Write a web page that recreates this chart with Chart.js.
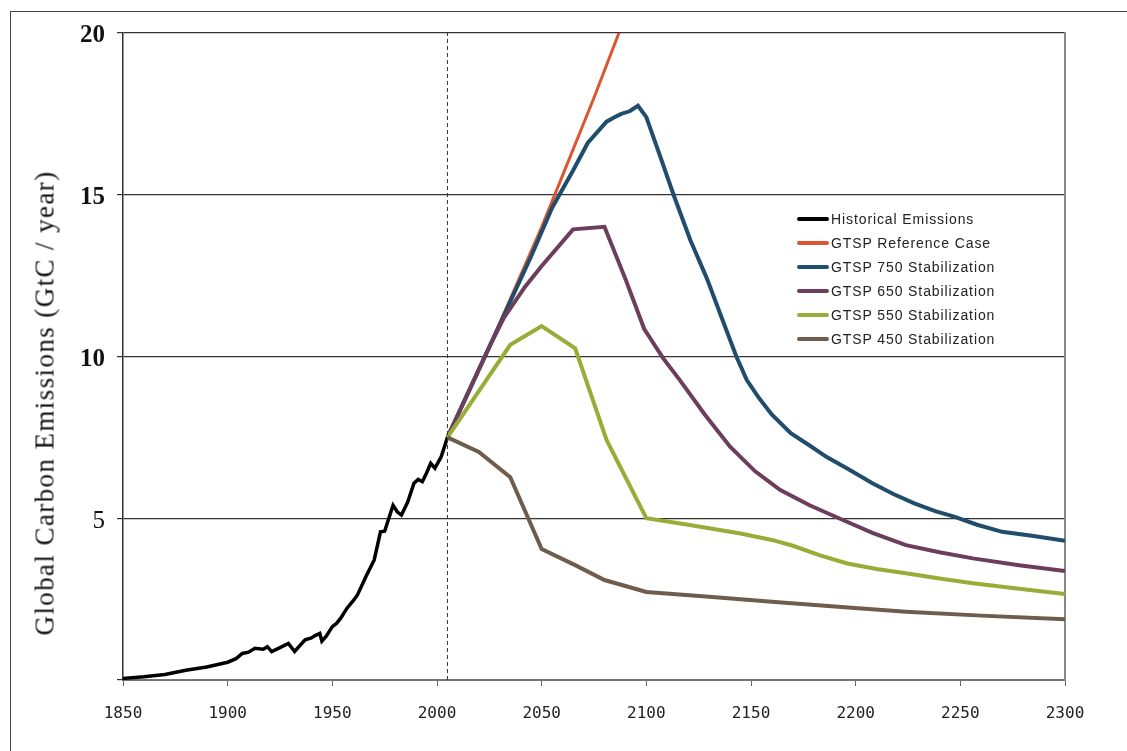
<!DOCTYPE html>
<html>
<head>
<meta charset="utf-8">
<script src="https://cdn.jsdelivr.net/npm/chart.js@4.4.1/dist/chart.umd.min.js"></script>
<style>
  body { margin: 0; background: #fff; }
  #wrap { position: relative; width: 1127px; height: 751px; overflow: hidden; }
  #frame { position: absolute; left: 10px; top: 11px; width: 1300px; height: 900px; border: 1.5px solid #444; }
  #chart { position: absolute; left: 0; top: 0; }
  #ytitle {
    position: absolute; left: 45px; top: 403px;
    transform: translate(-50%, -50%) rotate(-90deg);
    white-space: nowrap; font: 27px "Liberation Serif", serif; letter-spacing: 1.4px; color: #111;
  }
  #legend { position: absolute; left: 797px; top: 207px; font: 14px "Liberation Sans", Arial, sans-serif; color: #222; letter-spacing: 0.9px; }
  #legend div { height: 24px; line-height: 20px; white-space: nowrap; display: flex; align-items: center; }
  #legend span.sw { display: inline-block; width: 32px; height: 4px; border-radius: 2px; margin-right: 2px; }
</style>
</head>
<body>
<div id="wrap">
  <div id="frame"></div>
  <canvas id="chart" width="1127" height="751"></canvas>
  <div id="ytitle">Global Carbon Emissions (GtC / year)</div>
  <div id="legend"></div>
</div>
<script>
// x axis ticks
const xTicks = [1850, 1900, 1950, 2000, 2050, 2100, 2150, 2200, 2250, 2300];
const yTicks = [0, 5, 10, 15, 20];
const cutoffYear = 2005;

// historical emissions (GtC/yr)
const histYears = [1850, 1860, 1870, 1880, 1890, 1900, 1904, 1907, 1910, 1913, 1917, 1919, 1921, 1925, 1929, 1932, 1935, 1937, 1940, 1942, 1944, 1945, 1947, 1950, 1952, 1954, 1957, 1960, 1962, 1966, 1970, 1973, 1975, 1979, 1981, 1983, 1986, 1989, 1991, 1993, 1995, 1997, 1999, 2002, 2004, 2005];
const histValues = [0.05, 0.1, 0.17, 0.3, 0.4, 0.55, 0.66, 0.82, 0.86, 0.98, 0.95, 1.03, 0.88, 1.0, 1.13, 0.88, 1.1, 1.24, 1.3, 1.38, 1.44, 1.2, 1.35, 1.65, 1.75, 1.91, 2.22, 2.45, 2.63, 3.19, 3.71, 4.58, 4.6, 5.4, 5.2, 5.1, 5.5, 6.08, 6.2, 6.13, 6.4, 6.7, 6.55, 6.9, 7.3, 7.5];

// GTSP reference case
const refYears = [2005, 2025, 2050, 2075, 2100];
const refValues = [7.5, 10.3, 14.0, 18.0, 22.2];

// GTSP 750
const s750Years = [2005, 2025, 2045, 2055, 2065, 2072, 2081, 2085, 2088, 2092, 2096, 2100, 2106, 2113, 2121, 2129, 2136, 2143, 2148, 2154, 2160, 2169, 2178, 2186, 2197, 2208, 2218, 2228, 2238, 2247, 2258, 2270, 2285, 2300];
const s750Values = [7.5, 10.3, 13.1, 14.6, 15.75, 16.6, 17.26, 17.4, 17.5, 17.58, 17.75, 17.4, 16.3, 15.0, 13.6, 12.4, 11.2, 10.0, 9.27, 8.7, 8.2, 7.63, 7.25, 6.9, 6.5, 6.08, 5.75, 5.46, 5.22, 5.05, 4.8, 4.58, 4.45, 4.3];

// GTSP 650
const s650Years = [2005, 2025, 2032, 2042, 2050, 2065, 2080, 2090, 2099, 2101, 2108, 2116, 2128, 2140, 2152, 2164, 2178, 2192, 2208, 2224, 2240, 2256, 2278, 2300];
const s650Values = [7.5, 10.3, 11.2, 12.15, 12.8, 13.93, 14.01, 12.4, 10.85, 10.65, 9.95, 9.27, 8.2, 7.21, 6.45, 5.87, 5.4, 5.0, 4.55, 4.17, 3.95, 3.76, 3.55, 3.37];

// GTSP 550
const s550Years = [2005, 2035, 2050, 2066, 2081, 2100, 2120, 2145, 2160, 2170, 2183, 2196, 2210, 2224, 2240, 2256, 2278, 2300];
const s550Values = [7.5, 10.36, 10.94, 10.25, 7.42, 5.0, 4.8, 4.53, 4.33, 4.15, 3.85, 3.6, 3.43, 3.3, 3.14, 2.99, 2.82, 2.66];

// GTSP 450
const s450Years = [2005, 2020, 2035, 2050, 2066, 2080, 2100, 2130, 2160, 2190, 2224, 2260, 2300];
const s450Values = [7.5, 7.05, 6.27, 4.05, 3.55, 3.09, 2.72, 2.57, 2.42, 2.27, 2.11, 1.99, 1.88];

const pts = (xs, ys) => xs.map((x, i) => ({ x: x, y: ys[i] }));

const line = (label, xs, ys, color, width) => ({
  label: label,
  data: pts(xs, ys),
  borderColor: color,
  backgroundColor: color,
  borderWidth: width,
  pointRadius: 0,
  tension: 0,
  fill: false,
  clip: 0,
});

const datasets = [
  {
    label: '',
    data: pts([cutoffYear, cutoffYear], [0, 20]),
    borderColor: '#333',
    borderWidth: 1,
    borderDash: [4, 3],
    pointRadius: 0,
    fill: false,
  },
  line('GTSP 450 Stabilization', s450Years, s450Values, '#6e5c4c', 4),
  line('GTSP 550 Stabilization', s550Years, s550Values, '#97ad38', 4),
  line('GTSP 650 Stabilization', s650Years, s650Values, '#6d3e5c', 4),
  line('GTSP 750 Stabilization', s750Years, s750Values, '#214d6c', 4),
  line('GTSP Reference Case', refYears, refValues, '#dc5530', 3),
  line('Historical Emissions', histYears, histValues, '#000000', 3.5),
];

const legendOrder = ['Historical Emissions', 'GTSP Reference Case', 'GTSP 750 Stabilization', 'GTSP 650 Stabilization', 'GTSP 550 Stabilization', 'GTSP 450 Stabilization'];

const chart = new Chart(document.getElementById('chart').getContext('2d'), {
  type: 'line',
  data: { datasets: datasets },
  options: {
    responsive: false,
    devicePixelRatio: 1,
    animation: false,
    layout: { padding: { left: 0, top: 33, right: 0, bottom: 0 } },
    plugins: { legend: { display: false }, tooltip: { enabled: false } },
    scales: {
      x: {
        type: 'linear',
        min: 1850,
        max: 2300,
        afterBuildTicks: (scale) => { scale.ticks = xTicks.map(v => ({ value: v })); },
        afterFit: (scale) => { scale.height = 71; },
        ticks: {
          callback: (v) => String(v),
          font: { family: '"DejaVu Sans Mono", monospace', size: 16 },
          color: '#222',
          padding: 18,
          maxRotation: 0,
        },
        grid: { drawOnChartArea: false, tickLength: 6, color: '#666', lineWidth: 1 },
        border: { color: '#777', width: 2 },
      },
      y: {
        min: 0,
        max: 20,
        afterBuildTicks: (scale) => { scale.ticks = yTicks.map(v => ({ value: v })); },
        afterFit: (scale) => { scale.width = 123; },
        ticks: {
          callback: (v) => v === 0 ? '' : String(v),
          font: (ctx) => ({
            family: '"Liberation Serif", "Times New Roman", serif',
            size: 25,
            weight: ctx.tick && ctx.tick.value === 5 ? 'normal' : 'bold',
          }),
          color: '#111',
          padding: 12,
          labelOffset: 3,
        },
        grid: { color: '#333', lineWidth: 1.2, tickLength: 6 },
        border: { color: '#333', width: 1.5 },
      },
      y2: {
        position: 'right',
        min: 0,
        max: 20,
        ticks: { display: false },
        grid: { drawOnChartArea: false, drawTicks: false },
        border: { color: '#888', width: 2 },
        afterFit: (scale) => { scale.width = 62; },
      },
    },
  },
});

// html legend built from the chart's datasets
const legendEl = document.getElementById('legend');
legendOrder.forEach((name) => {
  const ds = chart.data.datasets.find(d => d.label === name);
  const row = document.createElement('div');
  const sw = document.createElement('span');
  sw.className = 'sw';
  sw.style.background = ds.borderColor;
  row.appendChild(sw);
  row.appendChild(document.createTextNode(name));
  legendEl.appendChild(row);
});
</script>
</body>
</html>
